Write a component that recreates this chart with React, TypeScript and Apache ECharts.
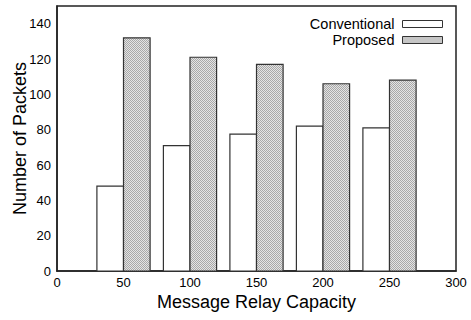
import React, { useEffect, useRef } from "react";
import * as echarts from "echarts";

const capacities = [50, 100, 150, 200, 250];
const conventional = [48, 71, 77.5, 82, 81];
const proposed = [132, 121, 117, 106, 108];
const xTicks = [0, 50, 100, 150, 200, 250, 300];
const seriesNames = ["Conventional", "Proposed"];

const FONT = "'Liberation Sans', Arial, Helvetica, sans-serif";

function makeHatch(): any {
  const c = document.createElement("canvas");
  c.width = 4;
  c.height = 4;
  const ctx = c.getContext("2d")!;
  ctx.fillStyle = "#e4e4e4";
  ctx.fillRect(0, 0, 4, 4);
  ctx.fillStyle = "#a8a8a8";
  for (let y = 0; y < 4; y++) {
    for (let x = 0; x < 4; x++) {
      if ((x + y) % 2 === 0) ctx.fillRect(x, y, 1, 1);
    }
  }
  return { image: c.toDataURL(), repeat: "repeat" };
}

function makeSeries(name: string, values: number[], offset: number, fill: any) {
  return {
    name,
    type: "custom",
    data: capacities.map((c, i) => [c, values[i]]),
    itemStyle: { color: fill, borderColor: "#333", borderWidth: 1 },
    renderItem: (params: any, api: any) => {
      const x = api.value(0);
      const y = api.value(1);
      const p0 = api.coord([x + offset - 20, 0]);
      const p1 = api.coord([x + offset, y]);
      return {
        type: "rect",
        shape: { x: p0[0], y: p1[1], width: p1[0] - p0[0], height: p0[1] - p1[1] },
        style: { fill, stroke: "#333", lineWidth: 1.2 },
      };
    },
  };
}

export default function App() {
  const ref = useRef<HTMLDivElement>(null);
  useEffect(() => {
    const chart = echarts.init(ref.current!, null, { renderer: "svg" });
    const hatch = makeHatch();
    chart.setOption({
      animation: false,
      backgroundColor: "#fff",
      textStyle: { fontFamily: FONT },
      grid: {
        left: 57,
        right: 15,
        top: 6,
        bottom: 49,
        show: true,
        borderColor: "#222",
        borderWidth: 1.5,
        outerBoundsMode: "none",
        containLabel: false,
      },
      legend: {
        orient: "vertical",
        right: 23,
        top: 11,
        align: "right",
        itemWidth: 40,
        itemHeight: 7,
        itemGap: 0,
        icon: "rect",
        textStyle: {
          fontFamily: FONT,
          fontSize: 14.5,
          lineHeight: 16,
          color: "#000",
          padding: [0, 3, 0, 0],
        },
        data: [
          { name: seriesNames[0], itemStyle: { color: "#fff", borderColor: "#333", borderWidth: 1 } },
          { name: seriesNames[1], itemStyle: { color: hatch, borderColor: "#333", borderWidth: 1 } },
        ],
      },
      xAxis: {
        type: "value",
        min: 0,
        max: 300,
        interval: 50,
        name: "Message Relay Capacity",
        nameLocation: "middle",
        nameGap: 22,
        nameMoveOverlap: false,
        nameTextStyle: { fontFamily: FONT, fontSize: 18, color: "#000" },
        axisLine: { lineStyle: { color: "#222", width: 1.5 } },
        axisTick: { show: false },
        splitLine: { show: false },
        axisLabel: { fontFamily: FONT, fontSize: 13, color: "#000", margin: 5, customValues: xTicks },
      },
      yAxis: {
        type: "value",
        min: 0,
        max: 150,
        interval: 20,
        name: "Number of Packets",
        nameLocation: "middle",
        nameGap: 28,
        nameMoveOverlap: false,
        nameTextStyle: { fontFamily: FONT, fontSize: 18, color: "#000" },
        axisLine: { show: true, lineStyle: { color: "#222", width: 1.5 } },
        axisTick: { show: false },
        splitLine: { show: false },
        axisLabel: {
          fontFamily: FONT,
          fontSize: 13,
          color: "#000",
          margin: 6,
          formatter: (v: number) => (v > 140 ? "" : String(v)),
        },
      },
      series: [
        makeSeries(seriesNames[0], conventional, 0, "#fff"),
        makeSeries(seriesNames[1], proposed, 20, hatch),
      ],
    });
    return () => chart.dispose();
  }, []);
  return (
    <div
      ref={ref}
      style={{ position: "absolute", left: 0, top: 0, width: 471, height: 320, overflow: "hidden" }}
    />
  );
}
